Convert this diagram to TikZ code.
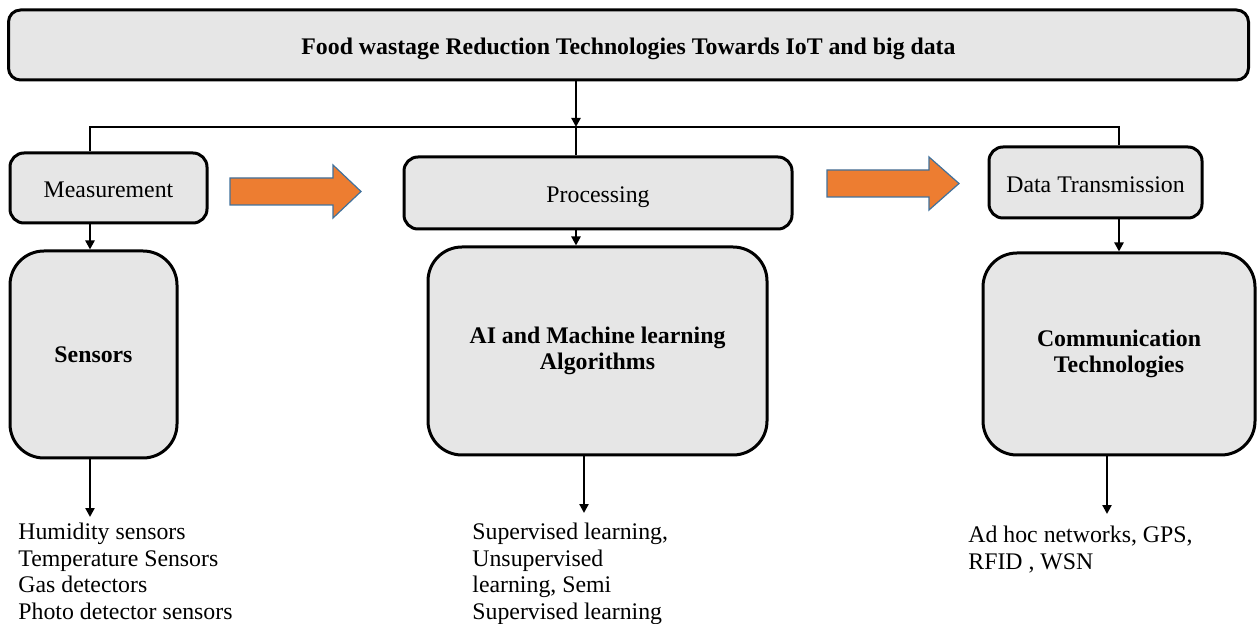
\documentclass[tikz,border=0pt]{standalone}
\usepackage{fontspec}
\setmainfont{Liberation Serif}
\usetikzlibrary{arrows.meta}
\definecolor{boxgray}{HTML}{E6E6E6}
\definecolor{floworange}{HTML}{ED7D31}
\definecolor{flowedge}{HTML}{41719C}
\AtBeginDocument{\fontsize{11.9}{13.25}\selectfont}
\begin{document}
\begin{tikzpicture}[x=0.5pt,y=-0.5pt]
          \tikzstyle{boxed}=[draw,line width=1.5pt,fill=boxgray,inner sep=0pt]
          \tikzstyle{stage}=[boxed,rounded corners=7pt,text height=10pt,text depth=0pt]
          \tikzstyle{block}=[boxed,rounded corners=17pt,font=\bfseries,align=center]
          \tikzstyle{conn}=[line width=1.4pt]
          \tikzstyle{arr}=[conn,-{Triangle[width=4.5pt,length=4.5pt]}]
          \tikzstyle{items}=[anchor=north west,align=left,inner sep=0pt]
          \tikzstyle{flow}=[fill=floworange,draw=flowedge,line width=0.6pt]
          \useasboundingbox (0,0) rectangle (1257,624);
          \node[stage,rounded corners=6pt,minimum width=620pt,minimum height=35pt,font=\bfseries] (title) at (628.5,45) {Food wastage Reduction Technologies Towards IoT and big data};
          \node[stage,minimum width=98.5pt,minimum height=35pt] (meas) at (108.5,188) {Measurement};
          \node[stage,minimum width=194pt,minimum height=36pt] (proc) at (598,193) {Processing};
          \node[stage,minimum width=106.5pt,minimum height=35.5pt] (trans) at (1095.5,182.5) {Data Transmission};
          \node[block,minimum width=83.5pt,minimum height=103.5pt] (sens) at (93.5,354.5) {Sensors};
          \node[block,minimum width=169.5pt,minimum height=104pt] (algo) at (597.5,351) {AI and Machine learning\\Algorithms};
          \node[block,minimum width=136pt,minimum height=101pt] (comm) at (1119,354) {Communication\\Technologies};
          \node[items] (sensList) at (18,523) {Humidity sensors\\Temperature Sensors\\Gas detectors\\Photo detector sensors};
          \node[items] (algoList) at (472,523) {Supervised learning,\\Unsupervised\\learning, Semi\\Supervised learning};
          \node[items] (commList) at (968,526) {Ad hoc networks, GPS,\\RFID , WSN};
          % bus from the title to the three stages
          \coordinate (busL) at (90,127);
          \coordinate (busM) at (576,127);
          \coordinate (busR) at (1119,127);
          \draw[arr] (title.south -| busM) -- (busM);
          \draw[conn] (meas.north -| busL) |- (busR) -- (trans.north -| busR);
          \draw[conn] (busM) -- (proc.north -| busM);
          \draw[arr] (meas.south -| busL) -- (sens.north -| busL);
          \draw[arr] (proc.south -| busM) -- (algo.north -| busM);
          \draw[arr] (trans.south -| busR) -- (comm.north -| busR);
          % down to the lists
          \coordinate (sensTip) at (90,517);
          \coordinate (algoTip) at (584,513);
          \coordinate (commTip) at (1107,514);
          \draw[arr] (sens.south -| sensTip) -- (sensTip);
          \draw[arr] (algo.south -| algoTip) -- (algoTip);
          \draw[arr] (comm.south -| commTip) -- (commTip);
          % block arrows between the stages
          \draw[flow] (230,178) -- (333,178) -- (333,165) -- (361,191.5) -- (333,218) -- (333,205) -- (230,205) -- cycle;
          \draw[flow] (827,170) -- (929,170) -- (929,157) -- (959,183.5) -- (929,210) -- (929,197) -- (827,197) -- cycle;
      \end{tikzpicture}
\end{document}
